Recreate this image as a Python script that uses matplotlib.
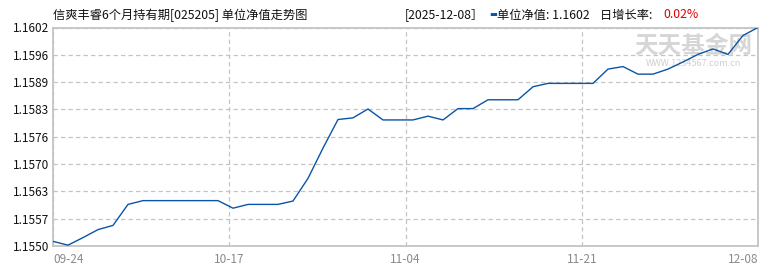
# -*- coding: utf-8 -*-
'''
单位净值走势图
'''
import numpy as np
import matplotlib
matplotlib.use('Agg')
import matplotlib.pyplot as plt

plt.rcParams['font.family'] = ['Noto Sans CJK SC', 'DejaVu Sans']

fund_title = '信爽丰睿6个月持有期[025205] 单位净值走势图'
last_date = '2025-12-08'
last_nav = '1.1602'
day_growth = '0.02%'

# 单位净值, 按交易日顺序
nav = [1.15511, 1.15502, 1.15520, 1.15539, 1.15549, 1.15599, 1.15608, 1.15608,
       1.15608, 1.15608, 1.15608, 1.15608, 1.15590, 1.15599, 1.15599, 1.15599,
       1.15607, 1.15661, 1.15733, 1.15801, 1.15805, 1.15826, 1.15800, 1.15800,
       1.15800, 1.15809, 1.15800, 1.15827, 1.15827, 1.15848, 1.15848, 1.15848,
       1.15879, 1.15887, 1.15887, 1.15887, 1.15887, 1.15921, 1.15927, 1.15909,
       1.15909, 1.15921, 1.15938, 1.15956, 1.15969, 1.15956, 1.16001, 1.16020]
date_labels = ['09-24', '10-17', '11-04', '11-21', '12-08']
y_min = 1.1550
y_max = 1.1602

line_color = '#0a55a5'
frame_color = '#c4c4c4'
grid_color = '#c4c4c4'


def draw():
    fig = plt.figure(figsize=(7.7, 2.7), dpi=100)
    ax = fig.add_axes([53 / 770, 1 - 246 / 270, 705 / 770, 218.5 / 270])

    x = np.arange(len(nav))
    ax.plot(x, nav, color=line_color, lw=1.0, zorder=3)
    ax.set_xlim(0, len(nav) - 1)
    ax.set_ylim(y_min, y_max)

    # y 轴 8 等分
    yt = np.linspace(y_min, y_max, 9)
    ax.set_yticks(yt)
    ax.set_yticklabels(['%.4f' % round(v + 1e-9, 4) for v in yt], fontsize=8.5, color='#111111')

    xt = np.linspace(0, len(nav) - 1, len(date_labels))
    ax.set_xticks(xt)
    ax.set_xticklabels(date_labels, fontsize=8.5, color='#8a8a8a')
    labs = ax.get_xticklabels()
    labs[0].set_ha('left')
    labs[-1].set_ha('right')

    ax.tick_params(axis='both', length=0)
    ax.tick_params(axis='y', pad=3)
    ax.tick_params(axis='x', pad=5)

    ax.grid(True, color=grid_color, linestyle=(0, (3.5, 2.5)), lw=0.9)
    ax.set_axisbelow(True)
    for s in ax.spines.values():
        s.set_color(frame_color)
        s.set_linewidth(1.3)

    # 水印 (在折线下面)
    ax.text(693 / 770, 1 - 46 / 270, '天天基金网', fontsize=17, fontweight='bold',
            color='#d6d6d6', ha='center', va='center', zorder=1,
            transform=fig.transFigure)
    ax.text(693 / 770, 1 - 63 / 270, 'WWW.1234567.com.cn', fontsize=6.5,
            color='#cfcfcf', ha='center', va='center', zorder=1,
            transform=fig.transFigure)

    # 标题
    ty = 1 - 15 / 270
    fig.text(53 / 770, ty, fund_title, fontsize=8.8, color='#111111', va='center')
    fig.text(405 / 770, ty, '[' + last_date + '］', fontsize=8.8, color='#111111', va='center')
    fig.text(489 / 770, ty, '▬', fontsize=6, color=line_color, va='center',
             family=['DejaVu Sans'])
    fig.text(497 / 770, ty, '单位净值: ' + last_nav, fontsize=8.8, color='#111111', va='center')
    fig.text(600 / 770, ty, '日增长率: ', fontsize=8.8, color='#111111', va='center')
    fig.text(663 / 770, ty, day_growth, fontsize=8.8, color='#e00000', va='center')

    fig.savefig('out.png', dpi=100)


if __name__ == '__main__':
    draw()
